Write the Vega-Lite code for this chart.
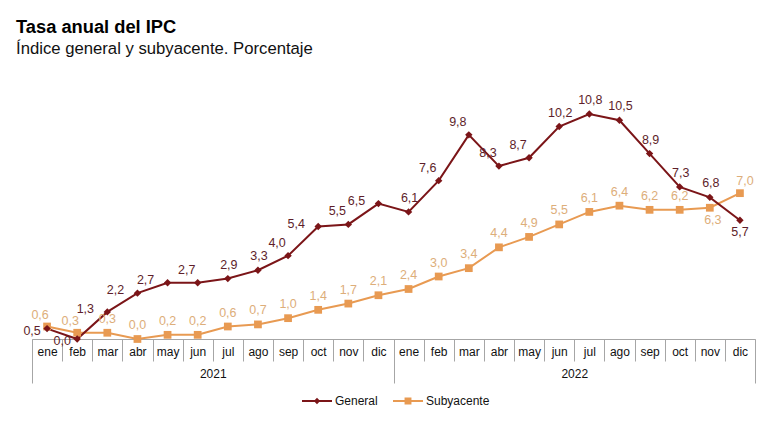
{
  "$schema": "https://vega.github.io/schema/vega-lite/v6.json",
  "width": 723,
  "height": 250,
  "autosize": {"type": "none"},
  "padding": {"left": 32, "top": 89, "right": 21, "bottom": 84},
  "background": "white",
  "config": {
    "view": {"stroke": null},
    "font": "Liberation Sans",
    "locale": {"number": {"decimal": ",", "thousands": ".", "grouping": [3], "currency": ["", " €"]}},
    "title": {"font": "Liberation Sans"}
  },
  "title": {
    "text": "Tasa anual del IPC",
    "subtitle": "Índice general y subyacente. Porcentaje",
    "anchor": "start",
    "frame": "group",
    "dx": -16,
    "offset": 30,
    "fontSize": 18.3,
    "fontWeight": "bold",
    "color": "#000000",
    "subtitleFontSize": 16.7,
    "subtitleColor": "#111111",
    "subtitleFont": "Liberation Sans",
    "subtitlePadding": 4
  },
  "data": {
    "values": [
      {"mes": "ene-21", "anio": "2021", "serie": "General", "valor": 0.5},
      {"mes": "feb-21", "anio": "2021", "serie": "General", "valor": 0.0},
      {"mes": "mar-21", "anio": "2021", "serie": "General", "valor": 1.3},
      {"mes": "abr-21", "anio": "2021", "serie": "General", "valor": 2.2},
      {"mes": "may-21", "anio": "2021", "serie": "General", "valor": 2.7},
      {"mes": "jun-21", "anio": "2021", "serie": "General", "valor": 2.7},
      {"mes": "jul-21", "anio": "2021", "serie": "General", "valor": 2.9},
      {"mes": "ago-21", "anio": "2021", "serie": "General", "valor": 3.3},
      {"mes": "sep-21", "anio": "2021", "serie": "General", "valor": 4.0},
      {"mes": "oct-21", "anio": "2021", "serie": "General", "valor": 5.4},
      {"mes": "nov-21", "anio": "2021", "serie": "General", "valor": 5.5},
      {"mes": "dic-21", "anio": "2021", "serie": "General", "valor": 6.5},
      {"mes": "ene-22", "anio": "2022", "serie": "General", "valor": 6.1},
      {"mes": "feb-22", "anio": "2022", "serie": "General", "valor": 7.6},
      {"mes": "mar-22", "anio": "2022", "serie": "General", "valor": 9.8},
      {"mes": "abr-22", "anio": "2022", "serie": "General", "valor": 8.3},
      {"mes": "may-22", "anio": "2022", "serie": "General", "valor": 8.7},
      {"mes": "jun-22", "anio": "2022", "serie": "General", "valor": 10.2},
      {"mes": "jul-22", "anio": "2022", "serie": "General", "valor": 10.8},
      {"mes": "ago-22", "anio": "2022", "serie": "General", "valor": 10.5},
      {"mes": "sep-22", "anio": "2022", "serie": "General", "valor": 8.9},
      {"mes": "oct-22", "anio": "2022", "serie": "General", "valor": 7.3},
      {"mes": "nov-22", "anio": "2022", "serie": "General", "valor": 6.8},
      {"mes": "dic-22", "anio": "2022", "serie": "General", "valor": 5.7},
      {"mes": "ene-21", "anio": "2021", "serie": "Subyacente", "valor": 0.6},
      {"mes": "feb-21", "anio": "2021", "serie": "Subyacente", "valor": 0.3},
      {"mes": "mar-21", "anio": "2021", "serie": "Subyacente", "valor": 0.3},
      {"mes": "abr-21", "anio": "2021", "serie": "Subyacente", "valor": 0.0},
      {"mes": "may-21", "anio": "2021", "serie": "Subyacente", "valor": 0.2},
      {"mes": "jun-21", "anio": "2021", "serie": "Subyacente", "valor": 0.2},
      {"mes": "jul-21", "anio": "2021", "serie": "Subyacente", "valor": 0.6},
      {"mes": "ago-21", "anio": "2021", "serie": "Subyacente", "valor": 0.7},
      {"mes": "sep-21", "anio": "2021", "serie": "Subyacente", "valor": 1.0},
      {"mes": "oct-21", "anio": "2021", "serie": "Subyacente", "valor": 1.4},
      {"mes": "nov-21", "anio": "2021", "serie": "Subyacente", "valor": 1.7},
      {"mes": "dic-21", "anio": "2021", "serie": "Subyacente", "valor": 2.1},
      {"mes": "ene-22", "anio": "2022", "serie": "Subyacente", "valor": 2.4},
      {"mes": "feb-22", "anio": "2022", "serie": "Subyacente", "valor": 3.0},
      {"mes": "mar-22", "anio": "2022", "serie": "Subyacente", "valor": 3.4},
      {"mes": "abr-22", "anio": "2022", "serie": "Subyacente", "valor": 4.4},
      {"mes": "may-22", "anio": "2022", "serie": "Subyacente", "valor": 4.9},
      {"mes": "jun-22", "anio": "2022", "serie": "Subyacente", "valor": 5.5},
      {"mes": "jul-22", "anio": "2022", "serie": "Subyacente", "valor": 6.1},
      {"mes": "ago-22", "anio": "2022", "serie": "Subyacente", "valor": 6.4},
      {"mes": "sep-22", "anio": "2022", "serie": "Subyacente", "valor": 6.2},
      {"mes": "oct-22", "anio": "2022", "serie": "Subyacente", "valor": 6.2},
      {"mes": "nov-22", "anio": "2022", "serie": "Subyacente", "valor": 6.3},
      {"mes": "dic-22", "anio": "2022", "serie": "Subyacente", "valor": 7.0}
    ]
  },
  "resolve": {"scale": {"x": "independent"}},
  "layer": [
    {
      "encoding": {
        "x": {
          "field": "mes",
          "type": "ordinal",
          "bandPosition": 0.5,
          "scale": {
            "type": "band",
            "paddingInner": 0,
            "paddingOuter": 0,
            "domain": ["ene-21","feb-21","mar-21","abr-21","may-21","jun-21","jul-21","ago-21","sep-21","oct-21","nov-21","dic-21","ene-22","feb-22","mar-22","abr-22","may-22","jun-22","jul-22","ago-22","sep-22","oct-22","nov-22","dic-22"]
          },
          "axis": {
            "title": null,
            "orient": "bottom",
            "labelExpr": "split(datum.label, '-')[0]",
            "labelAngle": 0,
            "labelFontSize": 12,
            "labelColor": "#111111",
            "labelFont": "Liberation Sans",
            "labelPadding": -15,
            "labelBaseline": "top",
            "tickBand": "extent",
            "tickSize": 22,
            "tickColor": "#a6a6a6",
            "tickWidth": 1,
            "domainColor": "#a6a6a6",
            "domainWidth": 1,
            "grid": false
          }
        },
        "y": {
          "field": "valor",
          "type": "quantitative",
          "scale": {"domain": [0, 12], "nice": false, "zero": false},
          "axis": null
        }
      },
      "layer": [
        {
          "transform": [{"filter": "datum.serie == 'Subyacente'"}],
          "mark": {"type": "line", "color": "#E89A52", "strokeWidth": 2},
          "encoding": {}
        },
        {
          "transform": [{"filter": "datum.serie == 'General'"}],
          "mark": {"type": "line", "color": "#7B1518", "strokeWidth": 2},
          "encoding": {}
        },
        {
          "transform": [{"filter": "datum.serie == 'Subyacente'"}],
          "mark": {"type": "point", "shape": "square", "filled": true, "size": 60, "color": "#E89A52", "opacity": 1}
        },
        {
          "transform": [{"filter": "datum.serie == 'General'"}],
          "mark": {"type": "point", "shape": "diamond", "filled": true, "size": 55, "color": "#7B1518", "opacity": 1}
        },
        {
          "transform": [{"filter": "datum.serie == 'General' && indexof(['ene-21','feb-21'], datum.mes) >= 0"}],
          "mark": {"type": "text", "fontSize": 12.5, "color": "#5E1E2A", "dx": -15, "dy": 2},
          "encoding": {"text": {"field": "valor", "type": "quantitative", "format": ".1f"}}
        },
        {
          "transform": [{"filter": "datum.serie == 'General' && indexof(['mar-21','abr-21','may-21','oct-21','dic-21'], datum.mes) >= 0"}],
          "mark": {"type": "text", "fontSize": 12.5, "color": "#5E1E2A", "dx": -22, "dy": -3},
          "encoding": {"text": {"field": "valor", "type": "quantitative", "format": ".1f"}}
        },
        {
          "transform": [{"filter": "datum.serie == 'General' && indexof(['jun-21','sep-21','nov-21','feb-22','mar-22','abr-22','may-22'], datum.mes) >= 0"}],
          "mark": {"type": "text", "fontSize": 12.5, "color": "#5E1E2A", "dx": -11, "dy": -13},
          "encoding": {"text": {"field": "valor", "type": "quantitative", "format": ".1f"}}
        },
        {
          "transform": [{"filter": "datum.serie == 'General' && indexof(['jul-21','ago-21','ene-22','jun-22','jul-22','ago-22','sep-22','oct-22','nov-22'], datum.mes) >= 0"}],
          "mark": {"type": "text", "fontSize": 12.5, "color": "#5E1E2A", "dx": 1, "dy": -14},
          "encoding": {"text": {"field": "valor", "type": "quantitative", "format": ".1f"}}
        },
        {
          "transform": [{"filter": "datum.serie == 'General' && datum.mes == 'dic-22'"}],
          "mark": {"type": "text", "fontSize": 12.5, "color": "#5E1E2A", "dx": 0, "dy": 12},
          "encoding": {"text": {"field": "valor", "type": "quantitative", "format": ".1f"}}
        },
        {
          "transform": [{"filter": "datum.serie == 'Subyacente' && indexof(['ene-21','feb-21'], datum.mes) >= 0"}],
          "mark": {"type": "text", "fontSize": 12.5, "color": "#DDAE7A", "dx": -7, "dy": -12},
          "encoding": {"text": {"field": "valor", "type": "quantitative", "format": ".1f"}}
        },
        {
          "transform": [{"filter": "datum.serie == 'Subyacente' && indexof(['ene-21','feb-21','nov-22','dic-22'], datum.mes) < 0"}],
          "mark": {"type": "text", "fontSize": 12.5, "color": "#DDAE7A", "dx": 0, "dy": -14},
          "encoding": {"text": {"field": "valor", "type": "quantitative", "format": ".1f"}}
        },
        {
          "transform": [{"filter": "datum.serie == 'Subyacente' && datum.mes == 'nov-22'"}],
          "mark": {"type": "text", "fontSize": 12.5, "color": "#DDAE7A", "dx": 3, "dy": 12},
          "encoding": {"text": {"field": "valor", "type": "quantitative", "format": ".1f"}}
        },
        {
          "transform": [{"filter": "datum.serie == 'Subyacente' && datum.mes == 'dic-22'"}],
          "mark": {"type": "text", "fontSize": 12.5, "color": "#DDAE7A", "dx": 5, "dy": -12},
          "encoding": {"text": {"field": "valor", "type": "quantitative", "format": ".1f"}}
        }
      ]
    },
    {
      "mark": {"type": "point", "filled": true, "size": 0},
      "encoding": {
        "x": {
          "field": "anio",
          "type": "ordinal",
          "bandPosition": 0.5,
          "scale": {"type": "band", "paddingInner": 0, "paddingOuter": 0},
          "axis": {
            "title": null,
            "orient": "bottom",
            "labelAngle": 0,
            "labelFontSize": 12,
            "labelColor": "#111111",
            "labelFont": "Liberation Sans",
            "labelPadding": -15,
            "labelBaseline": "top",
            "tickBand": "extent",
            "tickSize": 44,
            "tickColor": "#a6a6a6",
            "tickWidth": 1,
            "domain": false,
            "grid": false
          }
        },
        "y": {"field": "valor", "type": "quantitative"},
        "color": {
          "field": "serie",
          "type": "nominal",
          "scale": {"domain": ["General", "Subyacente"], "range": ["#7B1518", "#E89A52"]},
          "legend": {
            "title": null,
            "orient": "none",
            "legendX": 270,
            "legendY": 297,
            "direction": "horizontal",
            "symbolSize": 900,
            "symbolOpacity": 1,
            "symbolStrokeWidth": 0,
            "labelFontSize": 12,
            "labelColor": "#111111",
            "labelFont": "Liberation Sans",
            "labelOffset": 3,
            "columnPadding": 15,
            "encode": {"symbols": {"update": {"opacity": {"value": 1}}}}
          }
        },
        "shape": {
          "field": "serie",
          "type": "nominal",
          "scale": {
            "domain": ["General", "Subyacente"],
            "range": [
              "M-1,-0.06H1V0.06H-1ZM0,-0.21L0.21,0L0,0.21L-0.21,0Z",
              "M-1,-0.06H1V0.06H-1ZM-0.23,-0.23H0.23V0.23H-0.23Z"
            ]
          }
        }
      }
    }
  ]
}
